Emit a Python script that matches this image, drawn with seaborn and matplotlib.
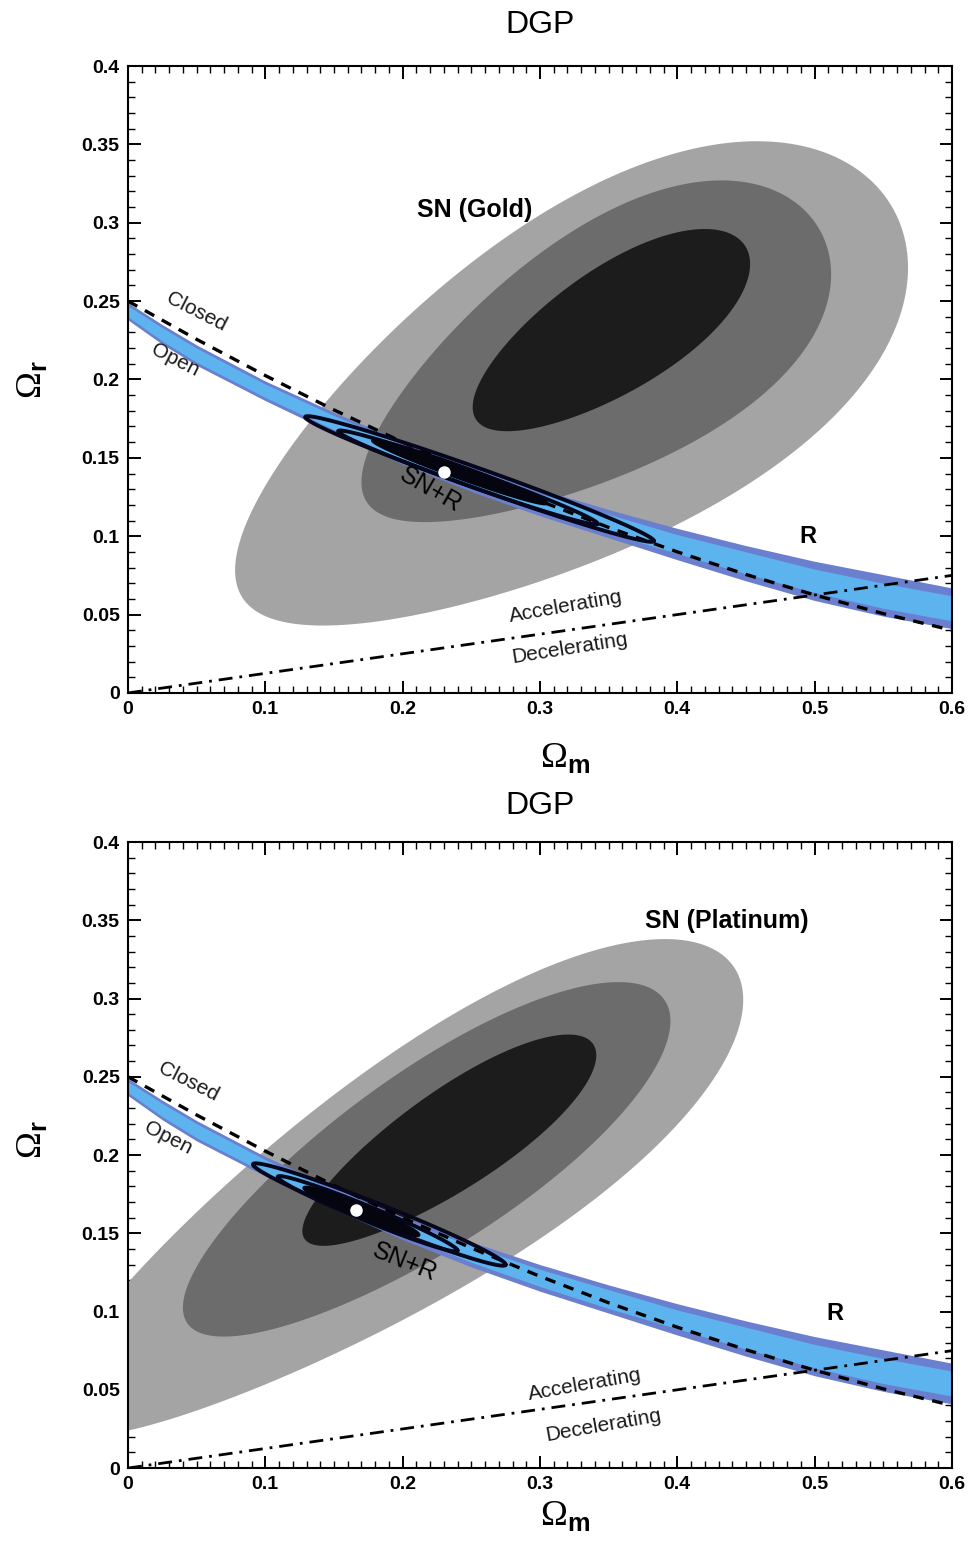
import numpy as np
import matplotlib
matplotlib.use("Agg")
import matplotlib.pyplot as plt
import seaborn as sns

# ---------------------------------------------
# data (Omega_m, Omega_r)
# ---------------------------------------------
# SN confidence regions: outer (light), middle, inner (dark)
# each given by its x / y extent and where the top / bottom extremes sit
GOLD_X_LIMITS = [(0.078, 0.568), (0.170, 0.512), (0.251, 0.453)]
GOLD_Y_LIMITS = [(0.043, 0.352), (0.109, 0.327), (0.167, 0.296)]
GOLD_X_AT_TOP = [0.440, 0.418, 0.418]
GOLD_X_AT_BOTTOM = [0.134, 0.210, 0.275]

PLAT_X_LIMITS = [(-0.060, 0.448), (0.040, 0.395), (0.127, 0.341)]
PLAT_Y_LIMITS = [(0.020, 0.338), (0.084, 0.3105), (0.142, 0.277)]
PLAT_X_AT_TOP = [0.386, 0.356, 0.320]
PLAT_X_AT_BOTTOM = [-0.035, 0.069, 0.142]

SN_COLORS = ['#a4a4a4', '#6c6c6c', '#1c1c1c']

# R (shift parameter) band, same in both panels
R_X = [0.0, 0.025, 0.05, 0.1, 0.15, 0.2, 0.25, 0.3, 0.35, 0.4, 0.45, 0.5, 0.55, 0.6]
R_LOWER = [0.238, 0.2225, 0.209, 0.1865, 0.1655, 0.146, 0.1285, 0.113, 0.099, 0.085, 0.0715, 0.059, 0.049, 0.041]
R_UPPER = [0.249, 0.235, 0.222, 0.199, 0.179, 0.1605, 0.1445, 0.130, 0.117, 0.105, 0.094, 0.084, 0.0755, 0.067]
R_INNER_LOWER = [0.240, 0.2245, 0.211, 0.1885, 0.168, 0.149, 0.1315, 0.116, 0.102, 0.089, 0.076, 0.064, 0.054, 0.046]
R_INNER_UPPER = [0.247, 0.233, 0.220, 0.197, 0.177, 0.158, 0.142, 0.127, 0.114, 0.101, 0.090, 0.079, 0.070, 0.062]

# flat (Omega_k = 0) line and acceleration boundary
FLAT_X = [0.0, 0.05, 0.1, 0.15, 0.2, 0.25, 0.3, 0.35, 0.4, 0.45, 0.5, 0.55, 0.6]
FLAT_Y = [0.25, 0.2256, 0.2025, 0.1806, 0.16, 0.1406, 0.1225, 0.1056, 0.09, 0.0756, 0.0625, 0.0506, 0.04]
ACCEL_X = [0.0, 0.1, 0.2, 0.3, 0.4, 0.5, 0.6]
ACCEL_Y = [0.0, 0.0125, 0.025, 0.0375, 0.05, 0.0625, 0.075]

# SN+R joint contours: (left tip, right tip), half thickness
SNR_GOLD_TIPS = [((0.129, 0.176), (0.383, 0.097)),
                 ((0.153, 0.167), (0.342, 0.108)),
                 ((0.178, 0.161), (0.305, 0.121))]
SNR_GOLD_HALF = [0.0068, 0.0052, 0.0042]
SNR_PLAT_TIPS = [((0.091, 0.194), (0.275, 0.130)),
                 ((0.109, 0.186), (0.240, 0.139)),
                 ((0.128, 0.179), (0.212, 0.149))]
SNR_PLAT_HALF = [0.0068, 0.0052, 0.0042]

GOLD_BEST = (0.230, 0.141)
PLAT_BEST = (0.166, 0.165)


def egg(xlim, ylim, x_top, x_bot, n=600):
    cx, a = (xlim[0] + xlim[1]) / 2, (xlim[1] - xlim[0]) / 2
    cy, b = (ylim[0] + ylim[1]) / 2, (ylim[1] - ylim[0]) / 2
    d_hi = np.arccos(np.clip((x_top - cx) / a, -1, 1))
    d_lo = np.arccos(np.clip((cx - x_bot) / a, -1, 1))
    t = np.linspace(0, 2 * np.pi, n)
    d = (d_hi + d_lo) / 2 + (d_hi - d_lo) / 2 * np.cos(t)
    return cx + a * np.cos(t), cy + b * np.cos(t - d)


def thin_contour(tips, half, n=300):
    (x1, y1), (x2, y2) = tips
    cx, cy = (x1 + x2) / 2, (y1 + y2) / 2
    hx, hy = (x2 - x1) / 2, (y2 - y1) / 2
    t = np.linspace(0, 2 * np.pi, n)
    return cx + hx * np.cos(t), cy + hy * np.cos(t) + half * np.sin(t)


sns.set_style("ticks")
plt.rcParams['font.family'] = ['Liberation Sans', 'DejaVu Sans']
plt.rcParams['mathtext.fontset'] = 'custom'
plt.rcParams['mathtext.rm'] = 'Liberation Serif'
plt.rcParams['mathtext.sf'] = 'Liberation Sans:bold'
plt.rcParams['text.color'] = 'black'
plt.rcParams['xtick.color'] = 'black'
plt.rcParams['ytick.color'] = 'black'

fig = plt.figure(figsize=(9.71, 15.53), dpi=100)
ax_top = fig.add_axes([0.1318, 0.5538, 0.8486, 0.4037])
ax_bot = fig.add_axes([0.1318, 0.0547, 0.8486, 0.4031])

panels = [
    (ax_top, GOLD_X_LIMITS, GOLD_Y_LIMITS, GOLD_X_AT_TOP, GOLD_X_AT_BOTTOM,
     SNR_GOLD_TIPS, SNR_GOLD_HALF, GOLD_BEST),
    (ax_bot, PLAT_X_LIMITS, PLAT_Y_LIMITS, PLAT_X_AT_TOP, PLAT_X_AT_BOTTOM,
     SNR_PLAT_TIPS, SNR_PLAT_HALF, PLAT_BEST),
]

for ax, xl, yl, xt, xb, tips, halfs, best in panels:
    # SN regions
    for i in range(3):
        ex, ey = egg(xl[i], yl[i], xt[i], xb[i])
        ax.fill(ex, ey, color=SN_COLORS[i], lw=0, zorder=1)

    # R band
    ax.fill_between(R_X, R_LOWER, R_UPPER, color='#6a7fce', lw=0, zorder=2)
    ax.fill_between(R_X, R_INNER_LOWER, R_INNER_UPPER, color='#5db3ee', lw=0, zorder=2)

    # flat line and acceleration boundary
    sns.lineplot(x=FLAT_X, y=FLAT_Y, ax=ax, color='black', lw=2.4,
                 linestyle=(0, (3.2, 2.6)), zorder=4)
    sns.lineplot(x=ACCEL_X, y=ACCEL_Y, ax=ax, color='black', lw=2.0,
                 linestyle=(0, (5, 2.5, 1, 2.5)), zorder=4)

    # SN+R
    for i in range(3):
        cxs, cys = thin_contour(tips[i], halfs[i])
        if i == 2:
            ax.fill(cxs, cys, color='#050510', lw=2, ec='#050510', zorder=5)
        else:
            ax.plot(cxs, cys, color='#06061c', lw=2.8, zorder=5)
    ax.plot(best[0], best[1], 'o', color='white', ms=8, mec='white', zorder=6)

    ax.set_xlim(0, 0.6)
    ax.set_ylim(0, 0.4)
    ax.set_xticks(np.arange(0, 0.61, 0.1))
    ax.set_yticks(np.arange(0, 0.401, 0.05))
    ax.set_xticklabels(['0', '0.1', '0.2', '0.3', '0.4', '0.5', '0.6'])
    ax.set_yticklabels(['0', '0.05', '0.1', '0.15', '0.2', '0.25', '0.3', '0.35', '0.4'])
    ax.set_xticks(np.arange(0, 0.601, 0.01), minor=True)
    ax.set_yticks(np.arange(0, 0.401, 0.01), minor=True)
    ax.tick_params(which='both', direction='in', top=True, right=True, colors='black')
    ax.tick_params(which='major', length=9, width=1.4, labelsize=14, pad=6)
    ax.tick_params(which='minor', length=5, width=1.0)
    for lab in ax.get_xticklabels() + ax.get_yticklabels():
        lab.set_fontweight('bold')
    for sp in ax.spines.values():
        sp.set_linewidth(1.5)
        sp.set_color('black')
    ax.set_xlabel('')
    ax.set_ylabel('')

# labels and annotations
note = dict(fontsize=15, color='#1a1a1a', ha='center', va='center', zorder=7)

ax_top.text(0.5, 1.065, 'DGP', transform=ax_top.transAxes, ha='center', va='center', fontsize=23)
ax_top.text(0.53, -0.075, r'$\Omega_{\mathsf{m}}$', transform=ax_top.transAxes,
            ha='center', va='top', fontsize=26)
ax_top.text(-0.117, 0.5, r'$\Omega_{\mathsf{r}}$', transform=ax_top.transAxes,
            ha='center', va='center', fontsize=26, rotation=90)
ax_top.text(0.2527, 0.308, 'SN (Gold)', fontsize=18, fontweight='bold', ha='center', va='center')
ax_top.text(0.495, 0.0995, 'R', fontsize=17, fontweight='bold', ha='center', va='center')
ax_top.text(0.220, 0.1295, 'SN+R', fontsize=18, rotation=-30, ha='center', va='center', zorder=7)
ax_top.text(0.050, 0.243, 'Closed', rotation=-27, **note)
ax_top.text(0.034, 0.2125, 'Open', rotation=-27, **note)
ax_top.text(0.319, 0.0549, 'Accelerating', rotation=10, **note)
ax_top.text(0.322, 0.0287, 'Decelerating', rotation=9, **note)

ax_bot.text(0.5, 1.058, 'DGP', transform=ax_bot.transAxes, ha='center', va='center', fontsize=23)
ax_bot.text(0.53, -0.048, r'$\Omega_{\mathsf{m}}$', transform=ax_bot.transAxes,
            ha='center', va='top', fontsize=26)
ax_bot.text(-0.117, 0.524, r'$\Omega_{\mathsf{r}}$', transform=ax_bot.transAxes,
            ha='center', va='center', fontsize=26, rotation=90)
ax_bot.text(0.436, 0.3495, 'SN (Platinum)', fontsize=18, fontweight='bold', ha='center', va='center')
ax_bot.text(0.515, 0.099, 'R', fontsize=17, fontweight='bold', ha='center', va='center')
ax_bot.text(0.2017, 0.1316, 'SN+R', fontsize=18, rotation=-22, ha='center', va='center', zorder=7)
ax_bot.text(0.0437, 0.2466, 'Closed', rotation=-27, **note)
ax_bot.text(0.029, 0.211, 'Open', rotation=-27, **note)
ax_bot.text(0.333, 0.053, 'Accelerating', rotation=10, **note)
ax_bot.text(0.346, 0.0275, 'Decelerating', rotation=10, **note)

fig.savefig('out.png', dpi=100)
